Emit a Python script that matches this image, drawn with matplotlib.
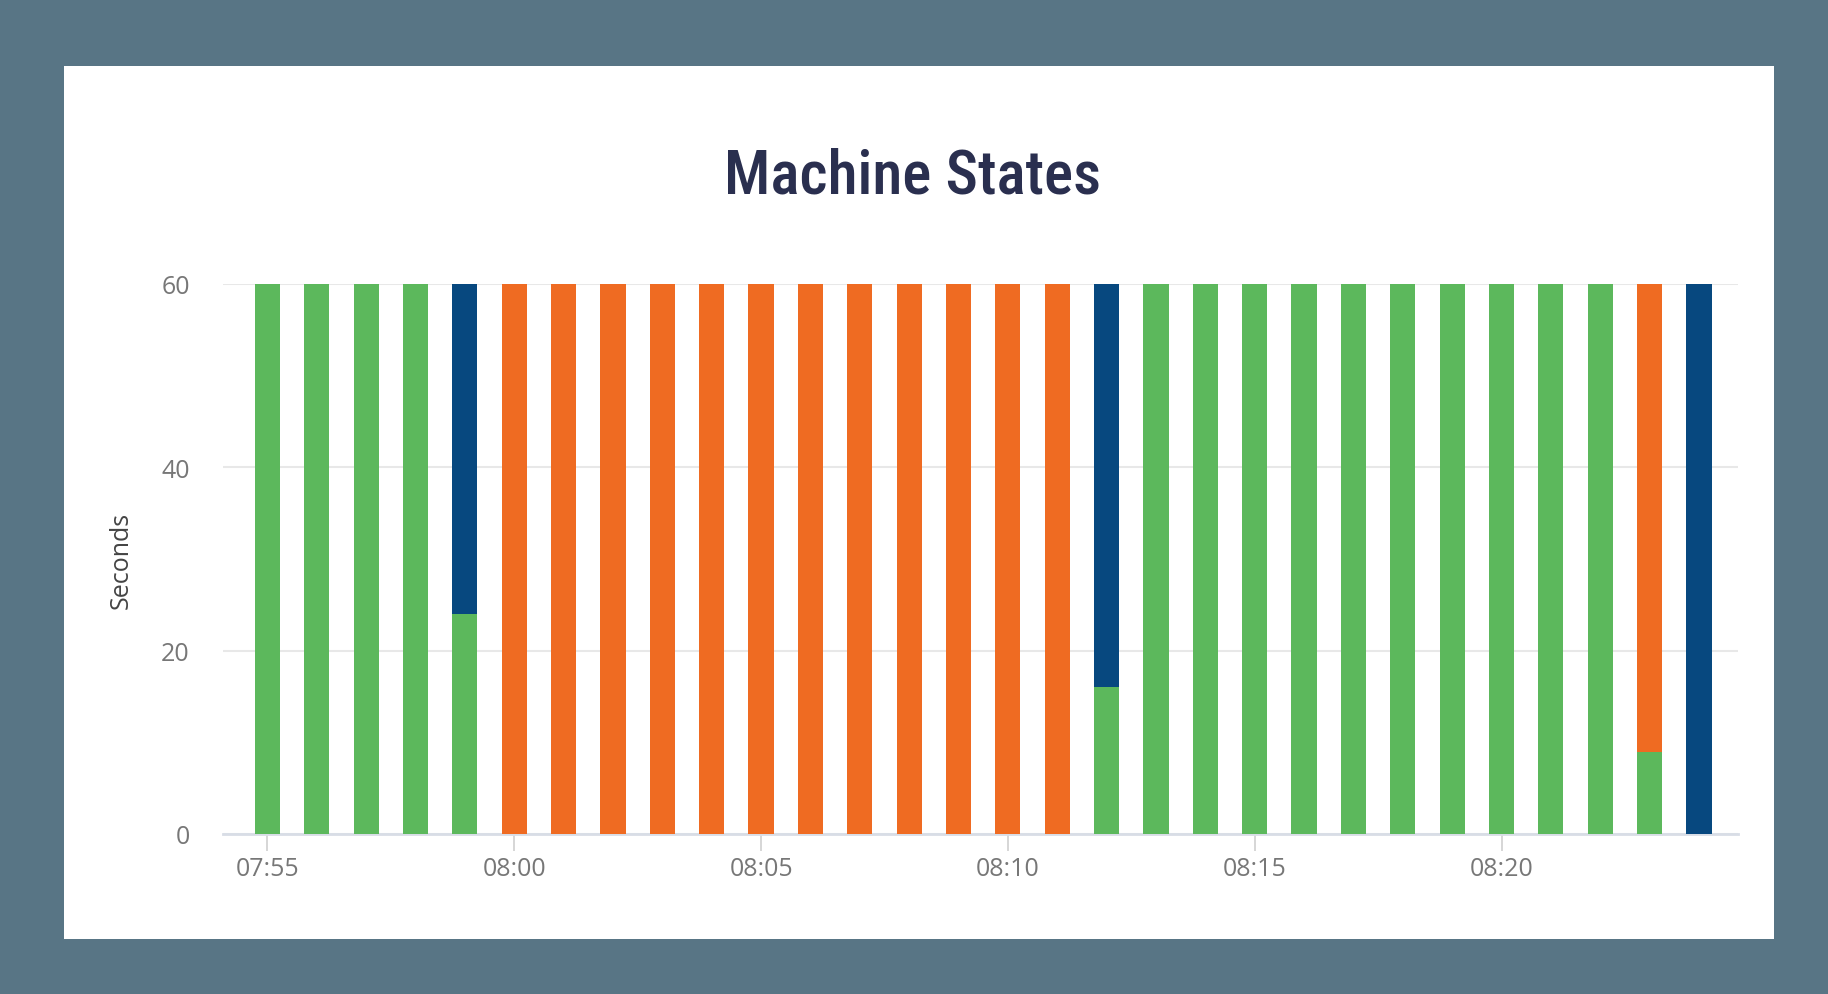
import matplotlib
matplotlib.use("Agg")
import matplotlib.pyplot as plt
from matplotlib import font_manager
from matplotlib.patches import Rectangle

minutes = ["07:55", "07:56", "07:57", "07:58", "07:59",
           "08:00", "08:01", "08:02", "08:03", "08:04", "08:05",
           "08:06", "08:07", "08:08", "08:09", "08:10", "08:11",
           "08:12", "08:13", "08:14", "08:15", "08:16", "08:17",
           "08:18", "08:19", "08:20", "08:21", "08:22", "08:23", "08:24"]
running = [60, 60, 60, 60, 24,
           0, 0, 0, 0, 0, 0, 0, 0, 0, 0, 0, 0,
           16, 60, 60, 60, 60, 60, 60, 60, 60, 60, 60, 9, 0]
stopped = [0, 0, 0, 0, 0,
           60, 60, 60, 60, 60, 60, 60, 60, 60, 60, 60, 60,
           0, 0, 0, 0, 0, 0, 0, 0, 0, 0, 0, 51, 0]
idle = [0, 0, 0, 0, 36,
        0, 0, 0, 0, 0, 0, 0, 0, 0, 0, 0, 0,
        44, 0, 0, 0, 0, 0, 0, 0, 0, 0, 0, 0, 60]
tick_labels = ["07:55", "08:00", "08:05", "08:10", "08:15", "08:20"]
y_ticks = [0, 20, 40, 60]

names = {f.name for f in font_manager.fontManager.ttflist}
title_font = next((f for f in ["Liberation Sans Narrow", "Roboto Condensed", "Open Sans Condensed",
                               "DejaVu Sans Condensed", "Roboto"] if f in names), "DejaVu Sans")
body_font = next((f for f in ["Open Sans", "Lato", "DejaVu Sans"] if f in names), "DejaVu Sans")

BORDER = "#587585"
GREEN = "#5cb85c"
ORANGE = "#ef6b22"
BLUE = "#07487f"

fig = plt.figure(figsize=(18.28, 9.95), dpi=100, facecolor=BORDER)
panel = Rectangle((64 / 1828, 1 - 940 / 995), (1774 - 64) / 1828, (940 - 67) / 995,
                  transform=fig.transFigure, facecolor="white", edgecolor="none", zorder=-5)
fig.patches.append(panel)

ax = fig.add_axes([223 / 1828, 1 - 835 / 995, (1738 - 223) / 1828, (835 - 285) / 995])
ax.set_facecolor("none")

x = list(range(len(minutes)))
w = 0.51
ax.bar(x, running, width=w, color=GREEN, zorder=3)
ax.bar(x, stopped, width=w, bottom=running, color=ORANGE, zorder=3)
bottom2 = [a + b for a, b in zip(running, stopped)]
ax.bar(x, idle, width=w, bottom=bottom2, color=BLUE, zorder=3)

ax.set_xlim(-0.9, len(minutes) - 1 + 0.79)
ax.set_ylim(0, 60)
ax.set_yticks(y_ticks)
ax.yaxis.grid(True, color="#e8e8e8", linewidth=1.5, zorder=0)
ax.set_axisbelow(True)

tick_pos = [minutes.index(t) for t in tick_labels]
ax.set_xticks(tick_pos)
ax.set_xticklabels(tick_labels)

for s in ["top", "right", "left"]:
    ax.spines[s].set_visible(False)
ax.spines["bottom"].set_color("#d8dde6")
ax.spines["bottom"].set_linewidth(2)

ax.tick_params(axis="y", length=0, pad=24, labelsize=18, labelcolor="#777777")
ax.tick_params(axis="x", length=12, width=1.2, color="#d0d0d0", pad=4, labelsize=18, labelcolor="#777777")
for lab in ax.get_xticklabels() + ax.get_yticklabels():
    lab.set_fontfamily(body_font)

ax.set_ylabel("Seconds", fontsize=18, color="#444444", family=body_font, labelpad=20)

fig.text(913 / 1828, 1 - 177 / 995, "Machine States", ha="center", va="center",
         fontsize=44, color="#2a2f4f", family=title_font, fontweight="medium")

fig.savefig("out.png", dpi=100, facecolor=BORDER)
